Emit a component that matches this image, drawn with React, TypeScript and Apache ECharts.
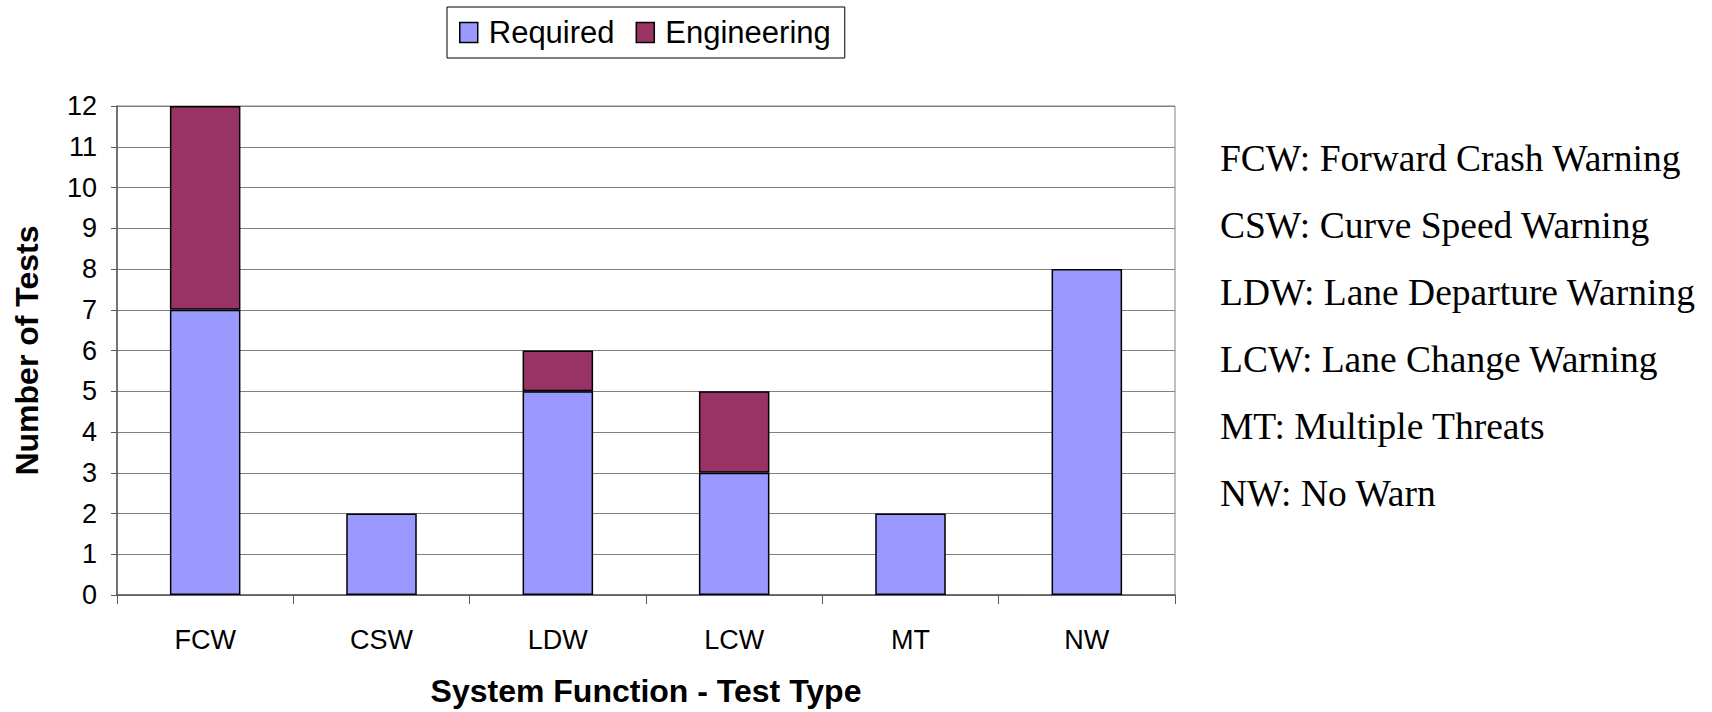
import React, { useEffect, useRef } from "react";
import * as echarts from "echarts";

const categories = ["FCW", "CSW", "LDW", "LCW", "MT", "NW"];
const requiredValues = [7, 2, 5, 3, 2, 8];
const engineeringValues = [5, 0, 1, 2, 0, 0];
const yTicks = { min: 0, max: 12, interval: 1 };
const glossary = [
  "FCW: Forward Crash Warning",
  "CSW: Curve Speed Warning",
  "LDW: Lane Departure Warning",
  "LCW: Lane Change Warning",
  "MT: Multiple Threats",
  "NW: No Warn",
];

const SANS = "'Liberation Sans', Arial, sans-serif";
const SERIF = "'Liberation Serif', 'Times New Roman', serif";

export default function App() {
  const ref = useRef<HTMLDivElement>(null);

  useEffect(() => {
    if (!ref.current) return;
    const chart = echarts.init(ref.current, undefined, { renderer: "svg" });
    const toBar = (v: number) => (v === 0 ? "-" : v);
    chart.setOption({
      animation: false,
      backgroundColor: "#ffffff",
      legend: {
        left: 447,
        top: 7,
        padding: [10, 14, 10, 12],
        borderColor: "#000000",
        borderWidth: 1,
        itemGap: 21,
        itemWidth: 18,
        itemHeight: 20,
        icon: "rect",
        itemStyle: { borderColor: "#000000", borderWidth: 1.5 },
        textStyle: { fontFamily: SANS, fontSize: 31, color: "#000000", padding: [0, 0, 0, 6] },
        data: ["Required", "Engineering"],
      },
      grid: {
        left: 117,
        right: 537,
        top: 106,
        bottom: 114,
        show: true,
        borderColor: "#808080",
        borderWidth: 1,
      },
      xAxis: {
        type: "category",
        data: categories,
        name: "System Function - Test Type",
        nameLocation: "middle",
        nameGap: 80,
        nameTextStyle: { fontFamily: SANS, fontSize: 32, fontWeight: "bold", color: "#000000" },
        axisLine: { show: true, lineStyle: { color: "#595959", width: 1.5 } },
        axisTick: { show: true, alignWithLabel: false, length: 9, lineStyle: { color: "#595959" } },
        axisLabel: { fontFamily: SANS, fontSize: 27, color: "#000000", margin: 31 },
      },
      yAxis: {
        type: "value",
        min: yTicks.min,
        max: yTicks.max,
        interval: yTicks.interval,
        name: "Number of Tests",
        nameLocation: "middle",
        nameGap: 74,
        nameRotate: 90,
        nameTextStyle: { fontFamily: SANS, fontSize: 32, fontWeight: "bold", color: "#000000" },
        axisLine: { show: true, lineStyle: { color: "#595959", width: 1.5 } },
        axisTick: { show: true, length: 6, lineStyle: { color: "#595959" } },
        axisLabel: { fontFamily: SANS, fontSize: 27, color: "#000000", margin: 20 },
        splitLine: { show: true, lineStyle: { color: "#808080", width: 1 } },
      },
      series: [
        {
          name: "Required",
          type: "bar",
          stack: "total",
          barWidth: "40%",
          itemStyle: { color: "#9999FF", borderColor: "#000000", borderWidth: 1.5 },
          data: requiredValues.map(toBar),
        },
        {
          name: "Engineering",
          type: "bar",
          stack: "total",
          barWidth: "40%",
          itemStyle: { color: "#993366", borderColor: "#000000", borderWidth: 1.5 },
          data: engineeringValues.map(toBar),
        },
      ],
      graphic: glossary.map((line, i) => ({
        type: "text",
        left: 1220,
        top: 139 + i * 67,
        style: {
          text: line,
          fontFamily: SERIF,
          fontSize: 37.5,
          fill: "#000000",
        },
      })),
    });
    return () => chart.dispose();
  }, []);

  return (
    <div
      ref={ref}
      style={{ position: "fixed", left: 0, top: 0, width: 1712, height: 712, background: "#fff" }}
    />
  );
}
